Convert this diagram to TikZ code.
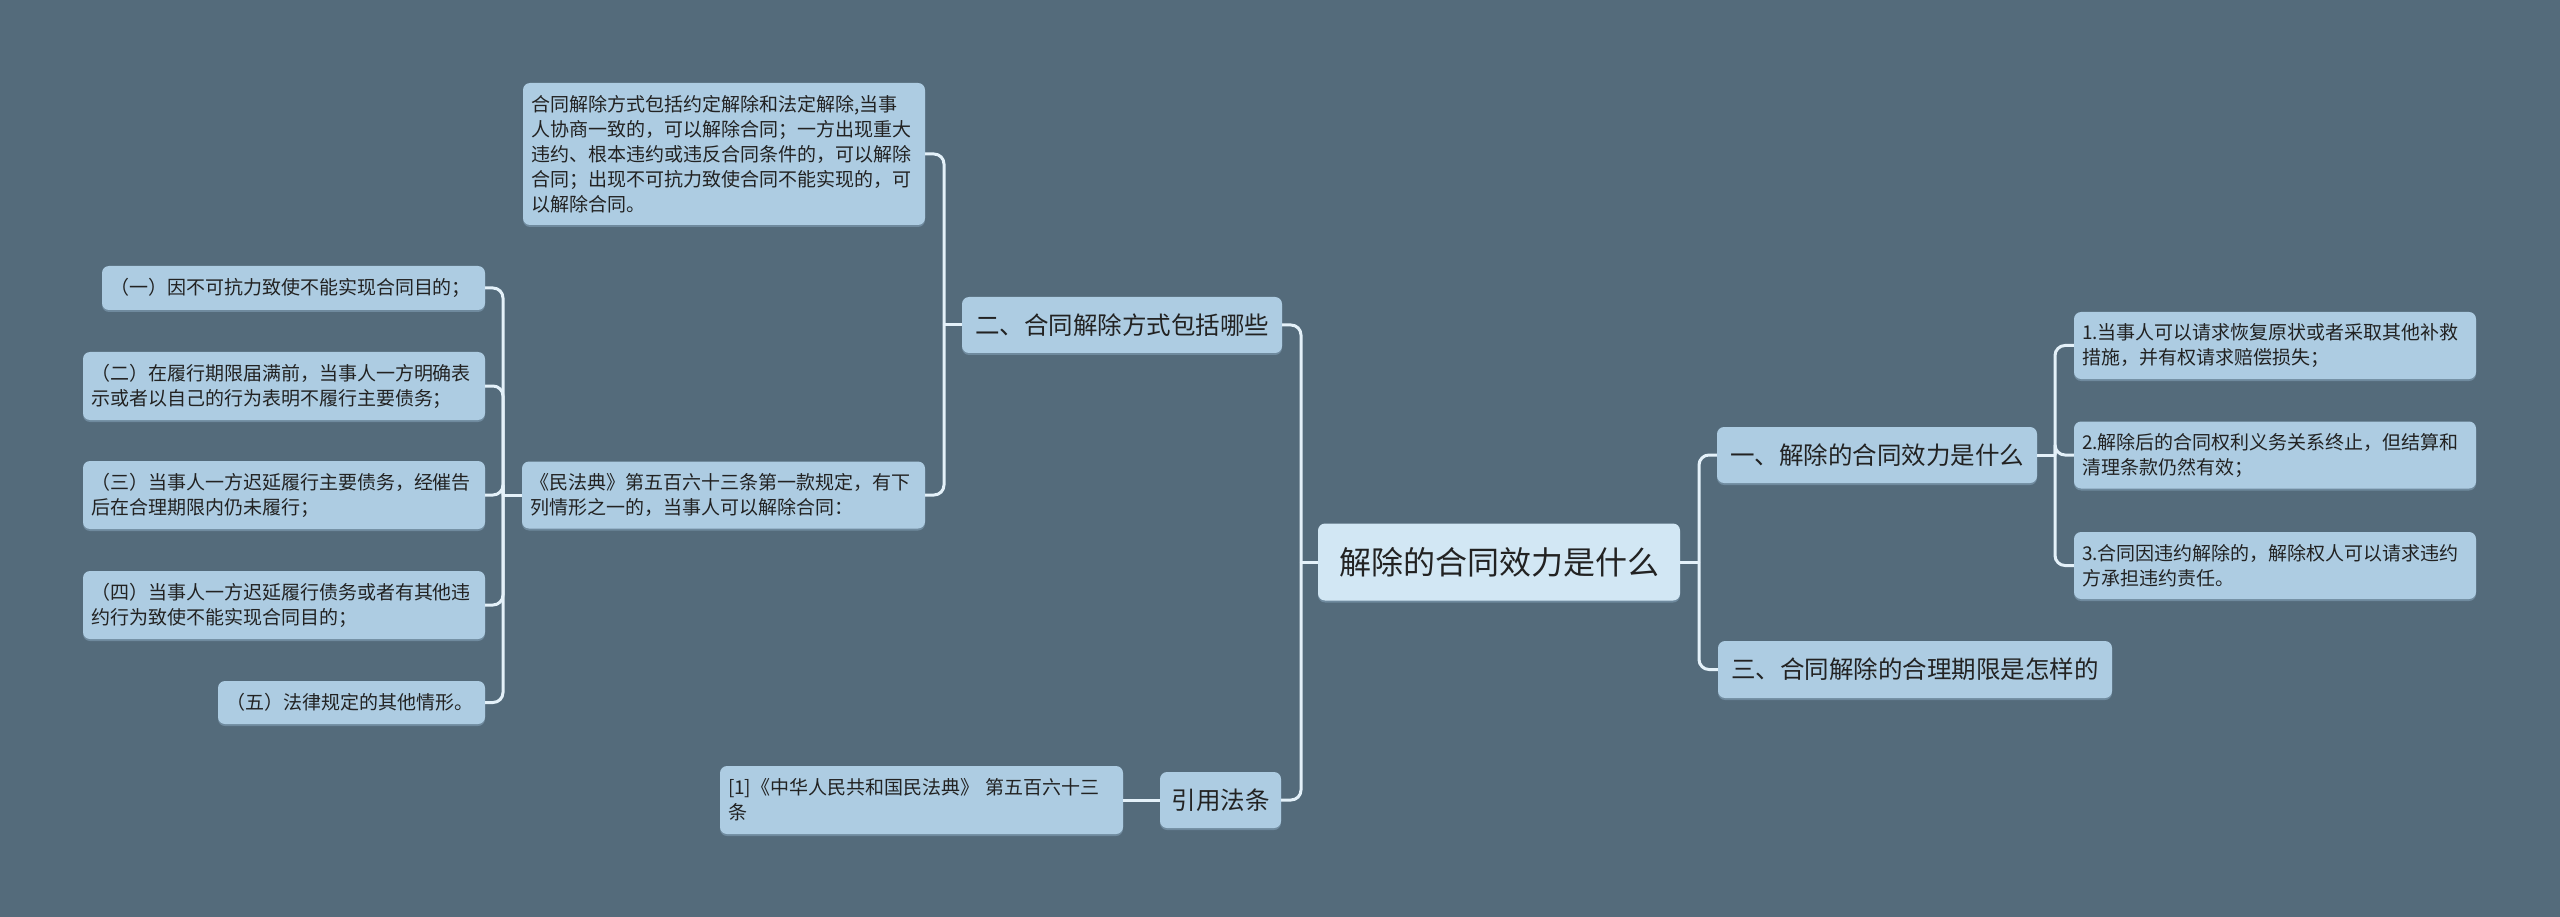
\documentclass[tikz,border=0pt]{standalone}
\usepackage{fontspec}
\usetikzlibrary{shadows}
\setmainfont{Noto Sans CJK SC}
\definecolor{bg}{HTML}{546B7B}
\definecolor{leafc}{HTML}{ADCCE2}
\definecolor{rootc}{HTML}{D2E7F4}
\definecolor{linec}{HTML}{E4F1F9}
\definecolor{txt}{HTML}{222222}
\definecolor{shade}{HTML}{6F8A9E}
\begin{document}
\begin{tikzpicture}[x=1pt,y=-1pt,
  box/.style={rounded corners=7pt, fill=leafc, text=txt, inner xsep=8pt, inner ysep=0pt, align=left,
    drop shadow={shadow xshift=0pt, shadow yshift=-2pt, fill=shade, opacity=1}},
  leaf/.style={box, font=\fontsize{19}{25}\selectfont},
  mid/.style={box, align=center, font=\fontsize{24.5}{30}\selectfont},
  rootbox/.style={box, fill=rootc, align=center, font=\fontsize{32}{38}\selectfont},
  conn/.style={draw=linec, line width=3pt, rounded corners=10pt}]
\fill[bg] (0,0) rectangle (2560,917);
\useasboundingbox (0,0) rectangle (2560,917);

% root and first level
\node[rootbox, minimum width=362pt, minimum height=77pt] (root) at (1499,562) {解除的合同效力是什么};
\node[mid, minimum width=320pt, minimum height=56pt] (er) at (1122,325) {二、合同解除方式包括哪些};
\node[mid, minimum width=121pt, minimum height=56pt] (yy) at (1220.5,800) {引用法条};
\node[mid, minimum width=320pt, minimum height=56pt] (yi) at (1877,455) {一、解除的合同效力是什么};
\node[mid, minimum width=394pt, minimum height=57pt] (san) at (1915,669.5) {三、合同解除的合理期限是怎样的};

% left leaves
\node[leaf, text width=386pt, minimum height=142pt] (desc) at (724,154) {合同解除方式包括约定解除和法定解除,当事\\人协商一致的，可以解除合同；一方出现重大\\违约、根本违约或违反合同条件的，可以解除\\合同；出现不可抗力致使合同不能实现的，可\\以解除合同。};
\node[leaf, text width=387pt, minimum height=67pt] (mfd) at (723.5,495) {《民法典》第五百六十三条第一款规定，有下\\列情形之一的，当事人可以解除合同：};
\node[leaf, text width=367pt, minimum height=44pt] (c1) at (293.5,288) {（一）因不可抗力致使不能实现合同目的；};
\node[leaf, text width=386pt, minimum height=68pt] (c2) at (284,386) {（二）在履行期限届满前，当事人一方明确表\\示或者以自己的行为表明不履行主要债务；};
\node[leaf, text width=386pt, minimum height=68pt] (c3) at (284,495) {（三）当事人一方迟延履行主要债务，经催告\\后在合理期限内仍未履行；};
\node[leaf, text width=386pt, minimum height=68pt] (c4) at (284,605) {（四）当事人一方迟延履行债务或者有其他违\\约行为致使不能实现合同目的；};
\node[leaf, text width=251pt, minimum height=43pt] (c5) at (351.5,702.5) {（五）法律规定的其他情形。};
\node[leaf, text width=387pt, minimum height=68pt] (ref) at (921.5,800) {[1]《中华人民共和国民法典》 第五百六十三\\条};

% right leaves
\node[leaf, text width=386pt, minimum height=67pt] (r1) at (2275,345.5) {1.当事人可以请求恢复原状或者采取其他补救\\措施，并有权请求赔偿损失；};
\node[leaf, text width=386pt, minimum height=67pt] (r2) at (2275,455) {2.解除后的合同权利义务关系终止，但结算和\\清理条款仍然有效；};
\node[leaf, text width=386pt, minimum height=67pt] (r3) at (2275,565.5) {3.合同因违约解除的，解除权人可以请求违约\\方承担违约责任。};

% spine coordinates
\coordinate (sL) at (1301,562);
\coordinate (sR) at (1699,562);
\coordinate (s2) at (944,325);
\coordinate (s3) at (503,495);
\coordinate (s1) at (2055,455);

% connectors
\draw[conn] (root.west) -- (sL);
\draw[conn] (sL) |- (er.east);
\draw[conn] (sL) |- (yy.east);
\draw[conn] (root.east) -- (sR);
\draw[conn] (sR) |- (yi.west);
\draw[conn] (sR) |- (san.west);

\draw[conn] (er.west) -- (s2);
\draw[conn] (s2) |- (desc.east);
\draw[conn] (s2) |- (mfd.east);

\draw[conn] (mfd.west) -- (s3);
\draw[conn] (s3) |- (c1.east);
\draw[conn] (s3) |- (c2.east);
\draw[conn] (s3) |- (c3.east);
\draw[conn] (s3) |- (c4.east);
\draw[conn] (s3) |- (c5.east);

\draw[conn] (yy.west) -- (ref.east);

\draw[conn] (yi.east) -- (s1);
\draw[conn] (s1) |- (r1.west);
\draw[conn] (s1) |- (r2.west);
\draw[conn] (s1) |- (r3.west);
\end{tikzpicture}
\end{document}
